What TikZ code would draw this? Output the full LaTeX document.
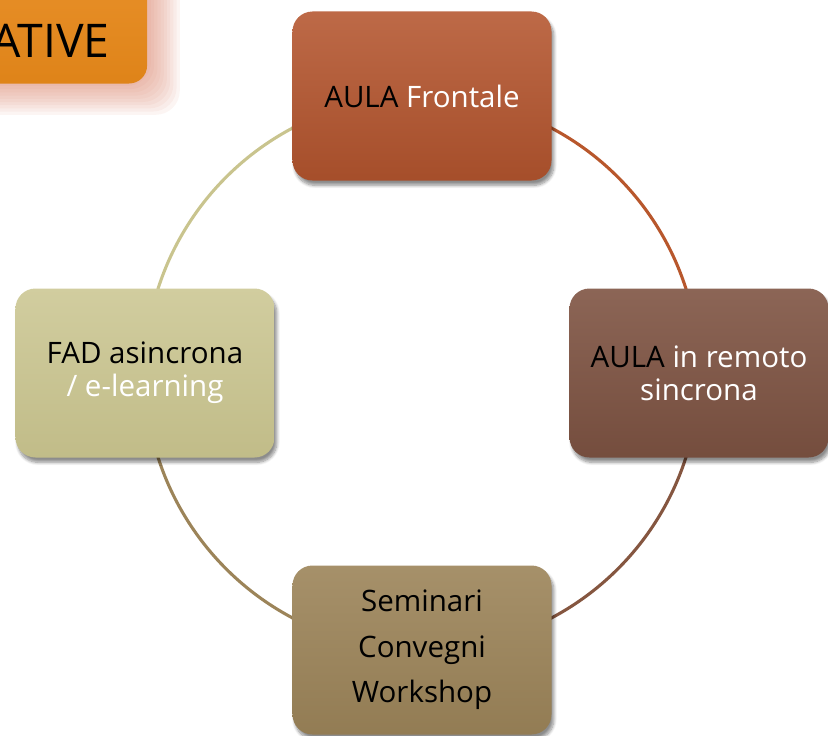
\documentclass[tikz,border=0pt]{standalone}
\usepackage{fontspec}
\setmainfont{Open Sans}
\usetikzlibrary{shadows.blur,backgrounds}

\definecolor{frontale}{HTML}{B4552E}
\definecolor{remoto}{HTML}{7F5443}
\definecolor{fad}{HTML}{C9C48E}
\definecolor{seminari}{HTML}{9C8459}
\definecolor{arancio}{HTML}{E8891A}
\definecolor{alone}{HTML}{D9826A}

\begin{document}
\begin{tikzpicture}
  % Define styles
  \tikzset{
    box/.style={rounded corners=0.5cm, minimum width=6.475cm, minimum height=4.225cm,
      align=center, font=\fontsize{21}{23.5}\selectfont,
      blur shadow={shadow xshift=0.06cm, shadow yshift=-0.12cm, shadow blur steps=8, shadow opacity=45}},
    ring/.style={line width=2.2pt}
  }
  \def\R{6.925}
  \useasboundingbox (-10.55,-9.05) rectangle (10.15,9.325);
  % Title box (cut by the page edge)
  \begin{scope}
    \clip (-10.55,-9.05) rectangle (10.15,9.325);
    % reddish glow round the box
    \foreach \g in {1,...,10} {
      \fill[alone, opacity=0.08, rounded corners=0.6cm]
        (-13.05+0.05,7.275-0.9+0.08*\g) rectangle (-6.875+0.9-0.08*\g,10.8);
    }
    \node[rounded corners=0.45cm, minimum width=6.175cm, minimum height=3.525cm,
      top color=arancio!92!white, bottom color=arancio!96!black]
      (titolo) at (-9.96,9.0) {};
    \node[anchor=base east, font=\fontsize{33}{36}\selectfont, inner sep=0pt]
      (ative) at (-7.8,7.9) {ATIVE};
  \end{scope}
  % The four boxes
  \node[box, top color=frontale!88!white, bottom color=frontale!92!black] (aula) at (90:\R)
    {AULA {\color{white}Frontale}};
  \node[box, top color=remoto!90!white, bottom color=remoto!92!black] (remoto) at (0:\R)
    {AULA {\color{white}in remoto}\\ {\color{white}sincrona}};
  \node[box, top color=seminari!90!white, bottom color=seminari!94!black,
    font=\fontsize{21}{32.5}\selectfont] (seminari) at (-90:\R)
    {Seminari\\ Convegni\\ Workshop};
  \node[box, top color=fad!85!white, bottom color=fad!96!black] (fad) at (180:\R)
    {FAD asincrona\\ {\color{white}/ e-learning}};
  % Ring between the boxes
  \begin{scope}[on background layer]
    \draw[ring, color=frontale!95!orange] (aula.center) arc[start angle=90, end angle=0, radius=\R];
    \draw[ring, color=remoto!95!orange] (remoto.center) arc[start angle=0, end angle=-90, radius=\R];
    \draw[ring, color=seminari] (seminari.center) arc[start angle=-90, end angle=-180, radius=\R];
    \draw[ring, color=fad] (fad.center) arc[start angle=180, end angle=90, radius=\R];
  \end{scope}
\end{tikzpicture}
\end{document}
